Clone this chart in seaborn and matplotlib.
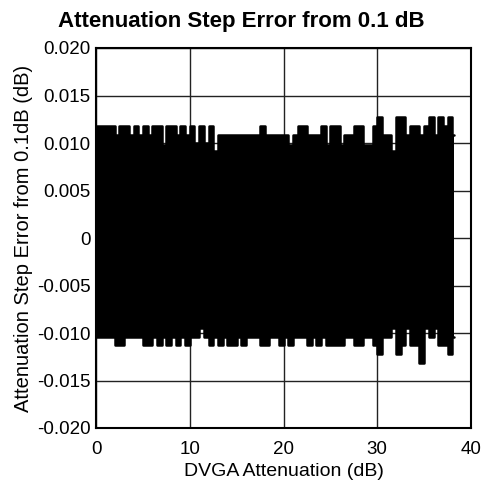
import matplotlib
matplotlib.use("Agg")
import matplotlib.pyplot as plt
from matplotlib.ticker import FixedLocator, FuncFormatter
import numpy as np
import pandas as pd
import seaborn as sns

# Envelope of the dense step-error trace, read per 0.5 dB bin (bin start in dB)
atten_db = [i * 0.5 for i in range(77)]
end_db = 38.2

upper_err = [
    0.0118, 0.0118, 0.0118, 0.0118, 0.0108, 0.0118, 0.0118, 0.0108, 0.0118, 0.0108,
    0.0118, 0.0108, 0.0118, 0.0118, 0.0098, 0.0118, 0.0118, 0.0108, 0.0118, 0.0108,
    0.0118, 0.0100, 0.0118, 0.0100, 0.0118, 0.0092, 0.0108, 0.0108, 0.0108, 0.0108,
    0.0108, 0.0108, 0.0108, 0.0108, 0.0108, 0.0118, 0.0108, 0.0108, 0.0108, 0.0108,
    0.0108, 0.0098, 0.0108, 0.0118, 0.0118, 0.0108, 0.0108, 0.0108, 0.0118, 0.0098,
    0.0118, 0.0118, 0.0098, 0.0108, 0.0108, 0.0118, 0.0118, 0.0098, 0.0098, 0.0118,
    0.0127, 0.0108, 0.0108, 0.0092, 0.0127, 0.0127, 0.0108, 0.0118, 0.0118, 0.0108,
    0.0118, 0.0127, 0.0108, 0.0127, 0.0118, 0.0127, 0.0108,
]

lower_err = [
    -0.0104, -0.0104, -0.0104, -0.0104, -0.0113, -0.0113, -0.0104, -0.0104, -0.0104, -0.0104,
    -0.0113, -0.0113, -0.0104, -0.0113, -0.0104, -0.0113, -0.0104, -0.0113, -0.0104, -0.0113,
    -0.0104, -0.0104, -0.0095, -0.0104, -0.0113, -0.0104, -0.0113, -0.0104, -0.0113, -0.0113,
    -0.0104, -0.0113, -0.0104, -0.0104, -0.0104, -0.0113, -0.0113, -0.0104, -0.0104, -0.0113,
    -0.0104, -0.0113, -0.0104, -0.0104, -0.0104, -0.0113, -0.0104, -0.0113, -0.0104, -0.0113,
    -0.0113, -0.0113, -0.0113, -0.0104, -0.0104, -0.0113, -0.0113, -0.0104, -0.0104, -0.0113,
    -0.0122, -0.0104, -0.0104, -0.0095, -0.0122, -0.0113, -0.0095, -0.0113, -0.0113, -0.0132,
    -0.0095, -0.0104, -0.0095, -0.0113, -0.0113, -0.0122, -0.0104,
]

x_ticks = [0, 10, 20, 30, 40]
y_ticks = [-0.020, -0.015, -0.010, -0.005, 0.0, 0.005, 0.010, 0.015, 0.020]

sns.set_theme(style="white")
plt.rcParams['font.family'] = ['Liberation Sans', 'DejaVu Sans']
plt.rcParams['text.color'] = 'black'

df = pd.DataFrame({
    'atten': atten_db + [end_db],
    'upper': upper_err + [upper_err[-1]],
    'lower': lower_err + [lower_err[-1]],
})

fig = plt.figure(figsize=(4.82, 4.84), dpi=100)
ax = fig.add_axes([96 / 482, 1 - 428 / 484, 375 / 482, 380 / 484])

ax.fill_between(df['atten'], df['lower'], df['upper'], step='post',
                color='black', linewidth=0, zorder=3)
sns.lineplot(data=df, x='atten', y='upper', ax=ax, color='black',
             linewidth=1.8, drawstyle='steps-post', zorder=3)
sns.lineplot(data=df, x='atten', y='lower', ax=ax, color='black',
             linewidth=1.8, drawstyle='steps-post', zorder=3)

ax.set_xlim(0, 40)
ax.set_ylim(-0.020, 0.020)
ax.xaxis.set_major_locator(FixedLocator(x_ticks))
ax.yaxis.set_major_locator(FixedLocator(y_ticks))
ax.yaxis.set_major_formatter(FuncFormatter(
    lambda v, p: '0' if abs(v) < 1e-9 else f"{v:.3f}"))

ax.grid(True, color='#222222', linewidth=1.0, zorder=1)
ax.set_axisbelow(True)
for s in ax.spines.values():
    s.set_color('black')
    s.set_linewidth(1.5)

ax.tick_params(axis='both', length=0, labelsize=13.5, colors='black')
ax.tick_params(axis='x', pad=9)
ax.tick_params(axis='y', pad=4)

ax.set_xlabel('DVGA Attenuation (dB)', fontsize=14, color='black', labelpad=4)
ax.set_ylabel('Attenuation Step Error from 0.1dB (dB)', fontsize=14.5,
              color='black', labelpad=3)
fig.suptitle('Attenuation Step Error from 0.1 dB', fontsize=16,
             fontweight='bold', y=0.978, x=0.5, color='black')

fig.savefig('out.png', dpi=100)
